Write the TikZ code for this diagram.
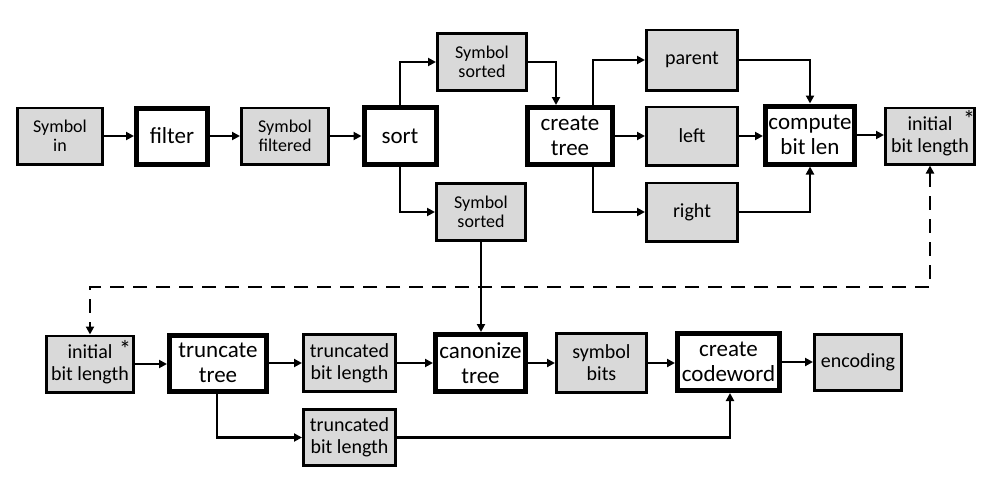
\documentclass[tikz,border=0pt]{standalone}
\usepackage{fontspec}
\setmainfont{Carlito}
\usetikzlibrary{arrows.meta,calc}
\definecolor{boxgray}{RGB}{217,217,217}
\begin{document}
\begin{tikzpicture}[x=1pt,y=-1pt,
  base/.style={draw=black, align=center, inner sep=0pt, text=black},
  procbox/.style 2 args={base, line width=5pt, fill=white, font=\fontsize{23}{25}\selectfont, minimum width=#1pt-5pt, minimum height=#2pt-5pt},
  databox/.style 2 args={base, line width=2.8pt, fill=boxgray, font=\fontsize{20}{22}\selectfont, minimum width=#1pt-2.8pt, minimum height=#2pt-2.8pt},
  symbox/.style 2 args={databox={#1}{#2}, font=\fontsize{18}{19}\selectfont},
  starnote/.style={inner sep=0pt, anchor=north, font=\fontsize{24}{24}\selectfont},
  conn/.style={line width=2.6pt, -{Triangle[length=8pt,width=8pt]}},
  dashconn/.style={line width=2.8pt, dash pattern=on 14pt off 9pt, {Triangle[length=8pt,width=8pt]}-{Triangle[length=8pt,width=8pt]}}
]
\useasboundingbox (0,0) rectangle (990,498);
% top row
\node[symbox={88}{59}] (sin) at (60,136) {Symbol\\in};
\node[procbox={76}{61}] (filter) at (172,136) {filter};
\node[symbox={90}{59}] (sfilt) at (285,136) {Symbol\\filtered};
\node[procbox={77}{62}] (sort) at (400,136) {sort};
\node[symbox={92}{60}] (ss1) at (482,62) {Symbol\\sorted};
\node[symbox={92}{60}] (ss2) at (481,212) {Symbol\\sorted};
\node[procbox={90}{62}] (ctree) at (570,136) {create\\tree};
\node[databox={94}{63}] (parent) at (692,60) {parent};
\node[databox={94}{61}] (left) at (692,136) {left};
\node[databox={94}{61}] (right) at (692,212) {right};
\node[procbox={94}{63}] (cbl) at (810,135) {compute\\bit len};
\node[databox={92}{59}] (ibl1) at (930,136) {initial\\bit length};
\node[starnote] (st1) at (969,110) {*};
% bottom row
\node[databox={90}{59}] (ibl2) at (90,364) {initial\\bit length};
\node[starnote] (st2) at (125,340) {*};
\node[procbox={102}{61}] (ttree) at (218,363) {truncate\\tree};
\node[databox={95}{60}] (tbl1) at (349.5,363) {truncated\\bit length};
\node[databox={95}{59}] (tbl2) at (349.5,437.5) {truncated\\bit length};
\node[procbox={95}{62}] (canon) at (480.5,363) {canonize\\tree};
\node[databox={93}{62}] (sbits) at (601.5,363) {symbol\\bits};
\node[procbox={107}{62}] (ccw) at (728.5,362) {create\\codeword};
\node[databox={90}{59}] (enc) at (858,362.5) {encoding};
\coordinate (dj) at (500,287);
% connectors top
\draw[conn] (sin.east) -- (filter.west);
\draw[conn] (filter.east) -- (sfilt.west);
\draw[conn] (sfilt.east) -- (sort.west);
\draw[conn] (sort.north) |- (ss1.west);
\draw[conn] (sort.south) |- (ss2.west);
\draw[conn] (ss1.east) -| ([xshift=-14pt]ctree.north);
\draw[conn] ([xshift=23pt]ctree.north) |- (parent.west);
\draw[conn] (ctree.east) -- (left.west);
\draw[conn] ([xshift=23pt]ctree.south) |- (right.west);
\draw[conn] (parent.east) -| (cbl.north);
\draw[conn] (left.east) -- (left.east -| cbl.west);
\draw[conn] (right.east) -| (cbl.south);
\draw[conn] (cbl.east) -- (cbl.east -| ibl1.west);
\draw[dashconn] (ibl1.south) |- (dj) -| (ibl2.north);
% connectors bottom
\draw[conn] (ss2.south) -- (ss2.south |- canon.north);
\draw[conn] (ibl2.east) -- (ibl2.east -| ttree.west);
\draw[conn] (ttree.east) -- (tbl1.west);
\draw[conn] ([xshift=-1pt]ttree.south) |- (tbl2.west);
\draw[conn] (tbl1.east) -- (canon.west);
\draw[conn] (canon.east) -- (sbits.west);
\draw[conn] (sbits.east) -- (sbits.east -| ccw.west);
\draw[conn] (ccw.east) -- (ccw.east -| enc.west);
\draw[conn] (tbl2.east) -| ([xshift=1.5pt]ccw.south);
\end{tikzpicture}
\end{document}
